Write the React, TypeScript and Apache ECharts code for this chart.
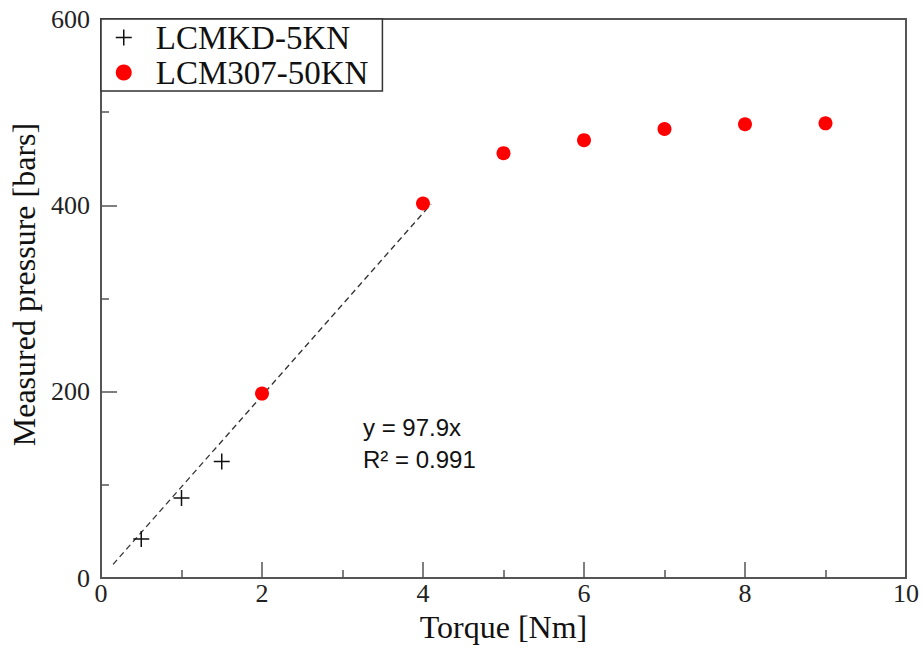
import React, { useEffect, useRef } from "react";
import * as echarts from "echarts";

const crossTorque = [0.5, 1, 1.5];
const crossPressure = [42, 86, 125];
const dotTorque = [2, 4, 5, 6, 7, 8, 9];
const dotPressure = [198, 402, 456, 470, 482, 487, 488];
const fitSlope = 97.9;
const fitRange = [0.15, 4.1];
const fitLabel = ["y = 97.9x", "R² = 0.991"];
const seriesNames = ["LCMKD-5KN", "LCM307-50KN"];

const CROSS = "path://M0,5L10,5M5,0L5,10";

export default function App() {
  const ref = useRef<HTMLDivElement>(null);
  useEffect(() => {
    document.body.style.margin = "0";
    if (!ref.current) return;
    const chart = echarts.init(ref.current, null, { renderer: "svg" });
    const serif = "Liberation Serif";
    chart.setOption({
      animation: false,
      backgroundColor: "#fff",
      grid: {
        left: 101,
        right: 17,
        top: 19,
        bottom: 67,
        show: true,
        borderColor: "#555",
        borderWidth: 2,
        backgroundColor: "transparent",
      },
      legend: {
        left: 101,
        top: 19,
        orient: "vertical",
        backgroundColor: "#fff",
        borderColor: "#333",
        borderWidth: 1.5,
        borderRadius: 0,
        padding: [2, 14, 2, 14],
        itemGap: 2,
        itemWidth: 20,
        itemHeight: 16,
        textStyle: { fontFamily: serif, fontSize: 33, color: "#111", padding: [0, 0, 0, 17] },
        data: [
          { name: seriesNames[0], icon: CROSS, itemStyle: { color: "transparent", borderColor: "#111", borderWidth: 1.5 } },
          { name: seriesNames[1], icon: "circle", itemStyle: { color: "#ff0000", opacity: 1 } },
        ],
      },
      xAxis: {
        type: "value",
        min: 0,
        max: 10,
        interval: 2,
        name: "Torque [Nm]",
        nameLocation: "middle",
        nameGap: 32,
        nameTextStyle: { fontFamily: serif, fontSize: 32, color: "#111" },
        axisLine: { show: true, lineStyle: { color: "#555", width: 2 } },
        axisTick: { show: true, inside: true, length: 16, lineStyle: { color: "#555", width: 1.5 } },
        minorTick: { show: true, splitNumber: 2, length: 8, lineStyle: { color: "#555", width: 1.5 } },
        splitLine: { show: false },
        axisLabel: { fontFamily: serif, fontSize: 26, color: "#222", margin: 2 },
      },
      yAxis: {
        type: "value",
        min: 0,
        max: 600,
        interval: 200,
        name: "Measured pressure [bars]",
        nameLocation: "middle",
        nameGap: 61,
        nameTextStyle: { fontFamily: serif, fontSize: 32, color: "#111", padding: [0, 0, 0, 28] },
        axisLine: { show: true, lineStyle: { color: "#555", width: 2 } },
        axisTick: { show: true, inside: true, length: 16, lineStyle: { color: "#555", width: 1.5 } },
        minorTick: { show: true, splitNumber: 2, length: 8, lineStyle: { color: "#555", width: 1.5 } },
        splitLine: { show: false },
        axisLabel: { fontFamily: serif, fontSize: 26, color: "#222", margin: 11 },
      },
      graphic: [
        {
          type: "text",
          left: 363,
          top: 411,
          style: {
            text: fitLabel.join("\n"),
            fontFamily: "Liberation Sans",
            fontSize: 24,
            lineHeight: 32,
            fill: "#111",
          },
        },
      ],
      series: [
        {
          name: "fit",
          type: "line",
          data: fitRange.map((x) => [x, fitSlope * x]),
          showSymbol: false,
          symbol: "none",
          lineStyle: { color: "#333", width: 1.3, type: [6, 4] },
          silent: true,
          z: 1,
        },
        {
          name: seriesNames[0],
          type: "scatter",
          symbol: CROSS,
          symbolSize: 16,
          data: crossTorque.map((x, i) => [x, crossPressure[i]]),
          itemStyle: { color: "transparent", borderColor: "#111", borderWidth: 1.5, opacity: 1 },
          z: 3,
        },
        {
          name: seriesNames[1],
          type: "scatter",
          symbol: "circle",
          symbolSize: 14,
          data: dotTorque.map((x, i) => [x, dotPressure[i]]),
          itemStyle: { color: "#ff0000", opacity: 1 },
          z: 3,
        },
      ],
    });
    return () => chart.dispose();
  }, []);
  return <div ref={ref} style={{ width: 923, height: 648 }} />;
}
